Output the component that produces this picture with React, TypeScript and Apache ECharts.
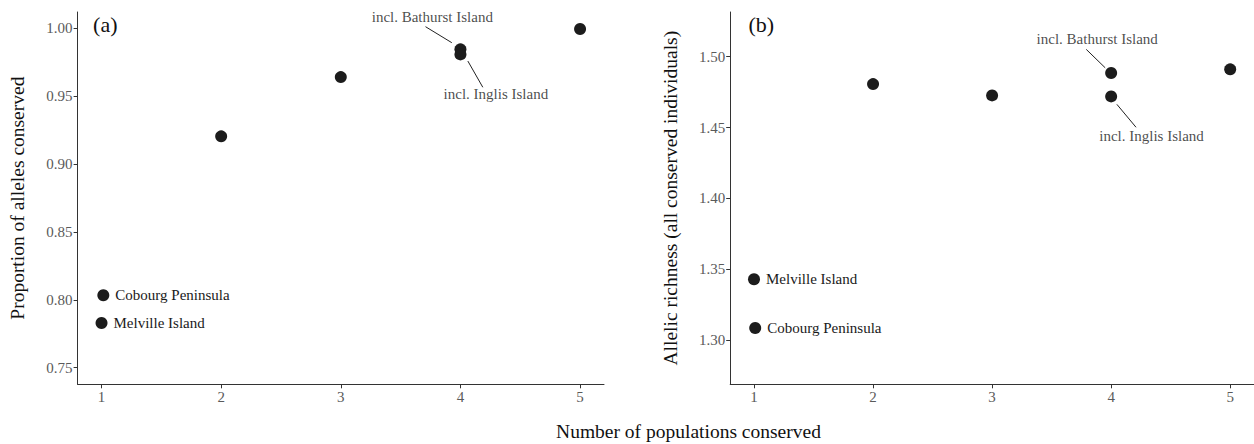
import React, { useEffect, useRef } from "react";
import * as echarts from "echarts";

// ---- data ----
const xTicks = [1, 2, 3, 4, 5];
const yTicksA = [0.75, 0.8, 0.85, 0.9, 0.95, 1.0];
const yTicksB = [1.3, 1.35, 1.4, 1.45, 1.5];

const pointLabels = ["Cobourg Peninsula", "Melville Island", "", "", "", "", ""];
const nPopsA = [1.015, 1, 2, 3, 4, 4, 5];
const allelesConserved = [0.8033, 0.7829, 0.9203, 0.9639, 0.9843, 0.9806, 0.9993];
const nPopsB = [1.01, 1, 2, 3, 4, 4, 5];
const allelicRichness = [1.3085, 1.3429, 1.4807, 1.4727, 1.4885, 1.472, 1.4911];

const calloutNames = ["incl. Bathurst Island", "incl. Inglis Island"];
const calloutTextA = [[3.765, 1.0083], [4.296, 0.9512]];
const calloutLineA = [[[3.708, 1.001], [3.928, 0.9892]], [[4.062, 0.9757], [4.187, 0.9564]]];
const calloutTextB = [[3.883, 1.5123], [4.339, 1.444]];
const calloutLineB = [[[3.791, 1.5052], [3.95, 1.4922]], [[4.048, 1.4664], [4.209, 1.4502]]];

const FONT = "Liberation Serif";
const DOT = "#1c1c1c";
const AXIS = "#333333";
const TICKLBL = "#5a5a5a";

function xAxisCfg(gridIndex: number) {
  return {
    type: "value",
    gridIndex,
    min: 0.8,
    max: 5.2,
    splitLine: { show: false },
    axisLine: { show: true, onZero: false, lineStyle: { color: AXIS, width: 1 } },
    axisTick: { show: true, length: 4, customValues: xTicks, lineStyle: { color: AXIS } },
    axisLabel: {
      customValues: xTicks,
      color: TICKLBL,
      fontFamily: FONT,
      fontSize: 15,
      margin: 5,
    },
  };
}

function yAxisCfg(gridIndex: number, min: number, max: number, ticks: number[], name: string, gap: number) {
  return {
    type: "value",
    gridIndex,
    min,
    max,
    name,
    nameLocation: "middle",
    nameGap: gap,
    nameTextStyle: { fontFamily: FONT, fontSize: 19.5, color: "#111" },
    splitLine: { show: false },
    axisLine: { show: true, onZero: false, lineStyle: { color: AXIS, width: 1 } },
    axisTick: { show: true, length: 4, customValues: ticks, lineStyle: { color: AXIS } },
    axisLabel: {
      customValues: ticks,
      color: TICKLBL,
      fontFamily: FONT,
      fontSize: 15,
      margin: 5,
      formatter: (v: number) => v.toFixed(2),
    },
  };
}

function pointSeries(idx: number, xs: number[], ys: number[]) {
  return {
    type: "scatter",
    xAxisIndex: idx,
    yAxisIndex: idx,
    symbolSize: 12,
    itemStyle: { color: DOT, opacity: 1 },
    data: xs.map((x, i) => ({
      value: [x, ys[i]],
      name: pointLabels[i],
      label: {
        show: pointLabels[i] !== "",
        position: "right",
        distance: 6,
        formatter: "{b}",
        fontFamily: FONT,
        fontSize: 15,
        color: "#1a1a1a",
      },
    })),
  };
}

function calloutSeries(idx: number, texts: number[][], lines: number[][][]) {
  return {
    type: "scatter",
    xAxisIndex: idx,
    yAxisIndex: idx,
    symbolSize: 0,
    silent: true,
    data: texts.map((p, i) => ({
      value: p,
      name: calloutNames[i],
      label: {
        show: true,
        position: "inside",
        formatter: "{b}",
        fontFamily: FONT,
        fontSize: 15,
        color: "#1a1a1a",
      },
    })),
    markLine: {
      silent: true,
      symbol: ["none", "none"],
      label: { show: false },
      lineStyle: { color: "#222", width: 1, type: "solid" },
      data: lines.map((seg) => [{ coord: seg[0] }, { coord: seg[1] }]),
    },
  };
}

export default function App() {
  const ref = useRef<HTMLDivElement>(null);
  useEffect(() => {
    document.body.style.margin = "0";
    const chart = echarts.init(ref.current!, null, { renderer: "svg" });
    chart.setOption({
      animation: false,
      backgroundColor: "#ffffff",
      grid: [
        { left: 77.6, right: 650, top: 12, bottom: 59.7 },
        { left: 730.2, right: -3, top: 12, bottom: 59.7 },
      ],
      xAxis: [xAxisCfg(0), xAxisCfg(1)],
      yAxis: [
        yAxisCfg(0, 0.7378, 1.0118, yTicksA, "Proportion of alleles conserved", 50),
        yAxisCfg(1, 1.2687, 1.5316, yTicksB, "Allelic richness (all conserved individuals)", 50),
      ],
      graphic: [
        {
          type: "text",
          x: 105.3,
          y: 24,
          style: { text: "(a)", fontFamily: FONT, fontSize: 22, fill: "#111", textAlign: "center", textVerticalAlign: "middle" },
        },
        {
          type: "text",
          x: 761.3,
          y: 24,
          style: { text: "(b)", fontFamily: FONT, fontSize: 22, fill: "#111", textAlign: "center", textVerticalAlign: "middle" },
        },
        {
          type: "text",
          x: 688.5,
          y: 431,
          style: {
            text: "Number of populations conserved",
            fontFamily: FONT,
            fontSize: 19.5,
            fill: "#111",
            textAlign: "center",
            textVerticalAlign: "middle",
          },
        },
      ],
      series: [
        pointSeries(0, nPopsA, allelesConserved),
        calloutSeries(0, calloutTextA, calloutLineA),
        pointSeries(1, nPopsB, allelicRichness),
        calloutSeries(1, calloutTextB, calloutLineB),
      ],
    });
    return () => chart.dispose();
  }, []);
  return <div ref={ref} style={{ width: 1254, height: 444 }} />;
}
